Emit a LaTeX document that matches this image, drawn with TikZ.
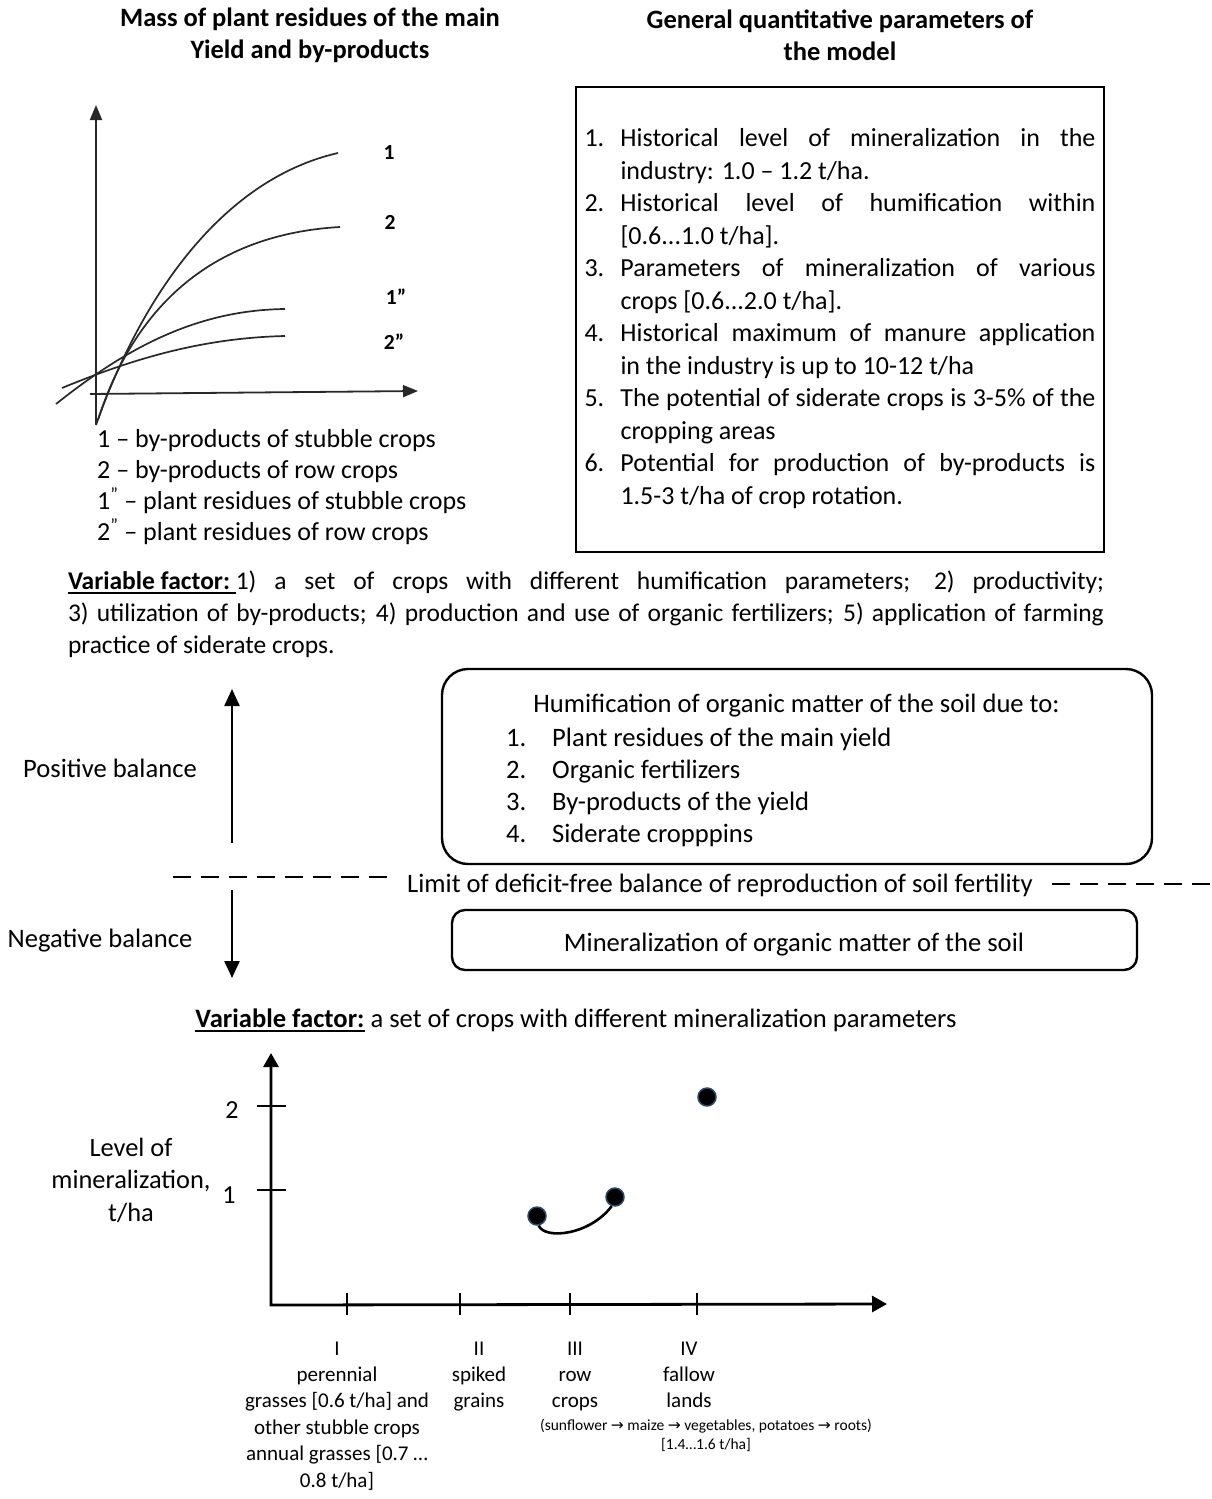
\documentclass[tikz,border=0pt]{standalone}
\usepackage{fontspec}
\setmainfont{Carlito}
\newfontfamily\arrowfont{DejaVu Sans}
\usetikzlibrary{arrows.meta}
\definecolor{dotring}{RGB}{47,72,105}
\definecolor{pencil}{RGB}{40,40,40}
% numbered line with hanging indent
\newcommand{\numitem}[2]{\par\noindent\hangindent=36pt\hangafter=1\makebox[36pt][l]{#1}#2\par}
% bold underlined words
\newsavebox{\ulbox}
\newcommand{\ulbf}[1]{\sbox{\ulbox}{\textbf{#1}}\rlap{\rule[-4.5pt]{\wd\ulbox}{1.8pt}}\usebox{\ulbox}}
\newcommand{\arr}{{\arrowfont →}}
\begin{document}
\begin{tikzpicture}[x=1pt,y=-1pt,
	every node/.style={inner sep=0pt},
	txt/.style={font=\fontsize{26}{32}\selectfont},
	mid/.style={font=\fontsize{26.6}{32}\selectfont},
	ttl/.style={font=\bfseries\fontsize{26.5}{32}\selectfont, align=center},
	crvlbl/.style={font=\bfseries\fontsize{21.5}{25}\selectfont},
	labsm/.style={font=\fontsize{21}{26.4}\selectfont, align=center, anchor=north},
	labxs/.style={font=\fontsize{15.5}{19}\selectfont, align=center, anchor=north},
	thinax/.style={draw=pencil, line width=1.8pt, -{Triangle[length=15pt,width=12pt]}},
	crv/.style={draw=pencil, line width=1.7pt},
	boxline/.style={draw, line width=2.4pt},
	balarrow/.style={line width=2.4pt, -{Triangle[length=17pt,width=15pt]}},
	limdash/.style={line width=2.6pt, dash pattern=on 18pt off 10pt},
	dot/.style={circle, fill=black, draw=dotring, line width=1.5pt, minimum size=18pt}]
\useasboundingbox (0,0) rectangle (1211,1499);

% headings
\node[ttl] (ttlmass) at (310,35) {Mass of plant residues of the main\\Yield and by-products};
\node[ttl] (ttlpar) at (840,35) {General quantitative parameters of\\the model};

% residue curves
\coordinate (ytop) at (96,105);
\coordinate (ybot) at (96,425);
\coordinate (xlft) at (90,394);
\coordinate (xrgt) at (418,391);
\draw[thinax] (ybot) -- (ytop);
\draw[thinax] (xlft) -- (xrgt);
\draw[crv] (96,425) .. controls (140,300) and (220,180) .. (338,153);
\draw[crv] (98,420) .. controls (130,320) and (200,235) .. (340,227);
\draw[crv] (56,404) .. controls (130,345) and (200,310) .. (285,309);
\draw[crv] (62,388) .. controls (130,360) and (200,338) .. (285,336);
\node[crvlbl] (lone) at (389,153) {1};
\node[crvlbl] (ltwo) at (390,222) {2};
\node[crvlbl] (lonep) at (396,297) {1”};
\node[crvlbl] (ltwop) at (394,342) {2”};
\node[txt, font=\fontsize{26}{31}\selectfont, align=left, anchor=west] (legend) at (97,487)
	{1 – by-products of stubble crops\\2 – by-products of row crops\\1\textsuperscript{"} – plant residues of stubble crops\\2\textsuperscript{"} – plant residues of row crops};

% parameters
\node[boxline, minimum width=528, minimum height=465] (params) at (840,319.5) {};
\node[font=\fontsize{26}{32.5}\selectfont, text width=511, align=justify] (paramtxt) at (840,311.5) {%
	\numitem{1.}{Historical level of mineralization in the\linebreak{} industry: 1.0 – 1.2 t/ha.}
	\numitem{2.}{Historical level of humification within\linebreak{} [0.6...1.0 t/ha].}
	\numitem{3.}{Parameters of mineralization of various\linebreak{} crops [0.6...2.0 t/ha].}
	\numitem{4.}{Historical maximum of manure application\linebreak{} in the industry is up to 10-12 t/ha}
	\numitem{5.}{The potential of siderate crops is 3-5\% of the\linebreak{} cropping areas}
	\numitem{6.}{Potential for production of by-products is\linebreak{} 1.5-3 t/ha of crop rotation.}};

\node[font=\fontsize{25.5}{32}\selectfont, text width=1036, align=justify] (varhum) at (586,614) {\ulbf{Variable factor:\ }1) a set of crops with different humification parameters; 2) productivity;\linebreak{} 3) utilization of by-products; 4) production and use of organic fertilizers; 5) application of farming\linebreak{} practice of siderate crops.};

% balance
\node[boxline, rounded corners=26pt, minimum width=710, minimum height=195] (hum) at (797,766.5) {};
\node[mid] (humhead) at (796.5,706) {Humification of organic matter of the soil due to:};
\node[mid, align=left, anchor=west] (humlist) at (506,787)
	{\makebox[46pt][l]{1.}Plant residues of the main yield\\\makebox[46pt][l]{2.}Organic fertilizers\\\makebox[46pt][l]{3.}By-products of the yield\\\makebox[46pt][l]{4.}Siderate cropppins};
\node[mid] (posbal) at (110,768) {Positive balance};
\node[mid] (negbal) at (100,941) {Negative balance};
\coordinate (upfrom) at (232,843);
\coordinate (upto) at (232,689);
\coordinate (dnfrom) at (232,890);
\coordinate (dnto) at (232,978);
\draw[balarrow] (upfrom) -- (upto);
\draw[balarrow] (dnfrom) -- (dnto);
\node[mid] (limit) at (720,885) {Limit of deficit-free balance of reproduction of soil fertility};
\coordinate (limla) at (173,877);
\coordinate (limlb) at (388,877);
\coordinate (limra) at (1052,884);
\coordinate (limrb) at (1211,884);
\draw[limdash] (limla) -- (limlb);
\draw[limdash] (limra) -- (limrb);
\node[boxline, rounded corners=13pt, minimum width=685, minimum height=60] (minbox) at (794.5,940) {};
\node[mid] (mintxt) at (794,945) {Mineralization of organic matter of the soil};

% mineralization graph
\node[mid] (varmin) at (576,1020) {\ulbf{Variable factor:} a set of crops with different mineralization parameters};
\coordinate (orig) at (271,1305);
\coordinate (ytip) at (271,1053);
\coordinate (xtip) at (887,1304);
\draw[line width=2.8pt, {Triangle[length=14pt,width=15pt]}-{Triangle[length=15pt,width=16pt]}] (ytip) -- (orig) -- (xtip);
\foreach \yy in {1106,1190}
	\draw[line width=2pt] (257,\yy) -- (286,\yy);
\foreach \xx in {347,460,570,697}
	\draw[line width=1.3pt] (\xx,1293) -- (\xx,1315);
\node[txt] (ttwo) at (232,1110) {2};
\node[txt] (tone) at (229,1195) {1};
\node[txt, font=\fontsize{26.4}{32.5}\selectfont, align=center] (ylbl) at (131,1180) {Level of\\mineralization,\\t/ha};
\node[dot] (dotA) at (537,1216) {};
\node[dot] (dotB) at (615,1197) {};
\node[dot] (dotC) at (707,1097) {};
\draw[line width=2.6pt] (dotA.-80) .. controls (545,1240) and (590,1235) .. (dotB.-110);
\node[labsm] (catI) at (337,1336.5) {\strut I\\perennial\\grasses [0.6 t/ha] and\\other stubble crops\\annual grasses [0.7 …\\0.8 t/ha]};
\node[labsm] (catII) at (479,1336.5) {\strut II\\spiked\\grains};
\node[labsm] (catIII) at (575,1336.5) {\strut III\\row\\crops};
\node[labsm] (catIV) at (689,1336.5) {\strut IV\\fallow\\lands};
\node[labxs] (catrow) at (706,1416.5) {\strut(sunflower \arr{} maize \arr{} vegetables, potatoes \arr{} roots)\\{}[1.4…1.6 t/ha]};
\end{tikzpicture}
\end{document}
